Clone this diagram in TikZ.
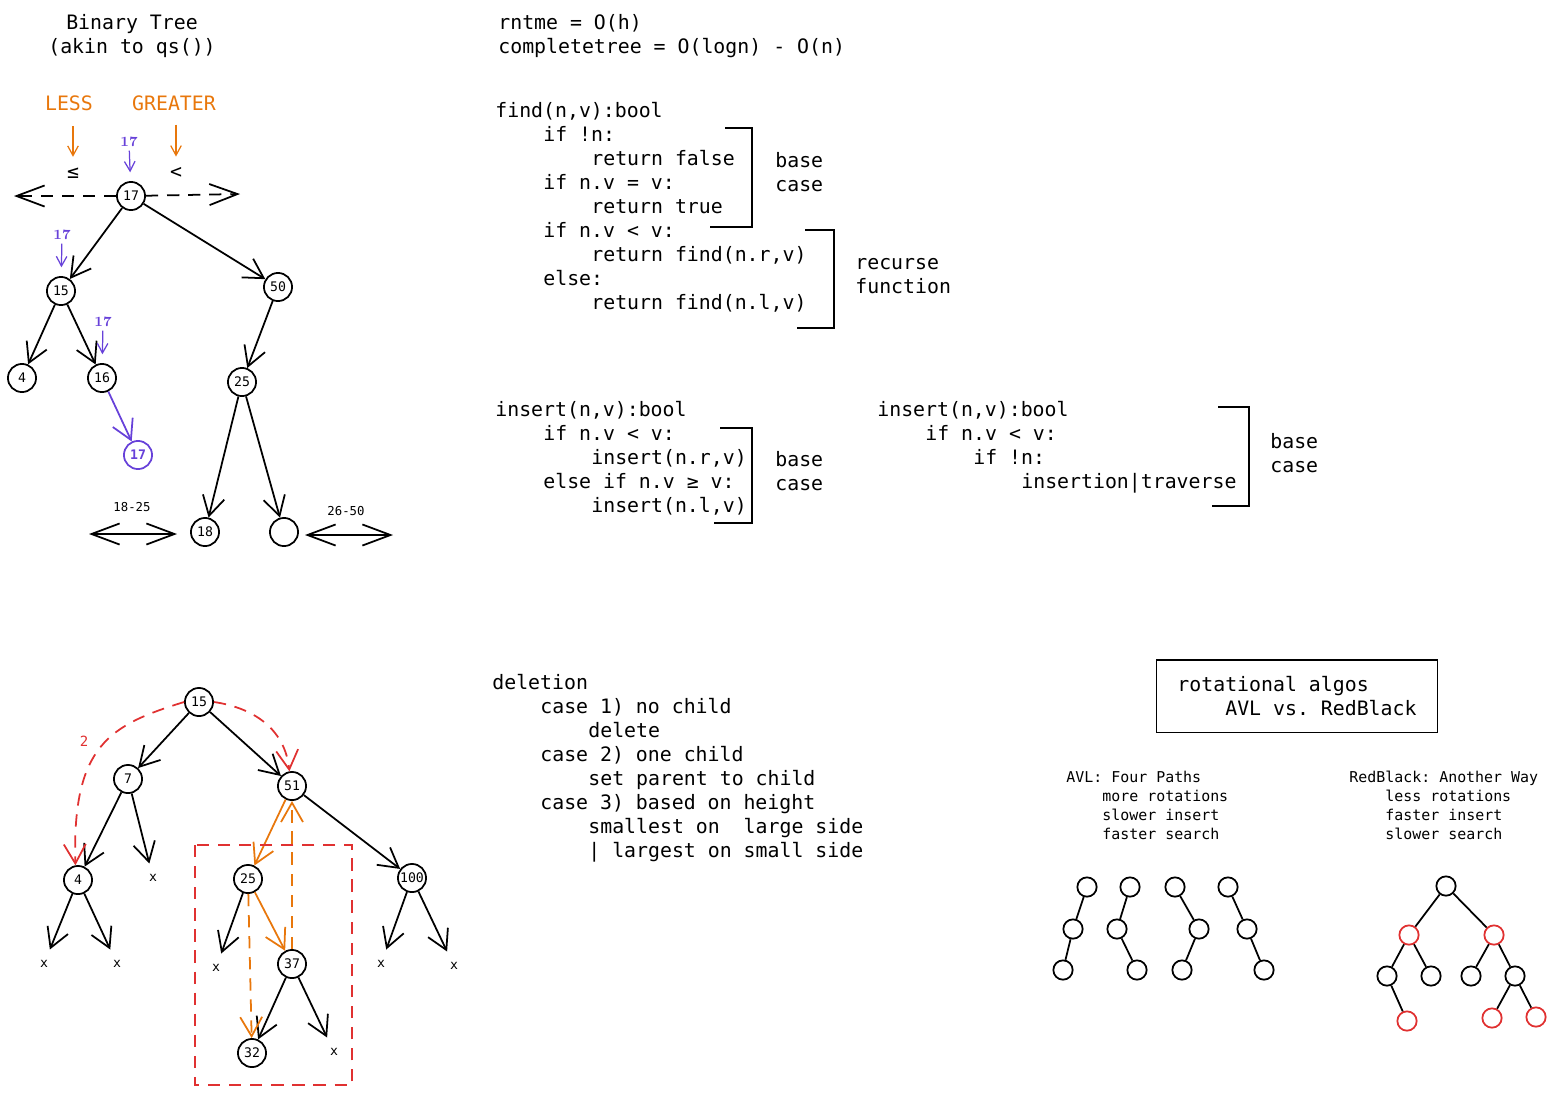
\documentclass[tikz,border=0pt]{standalone}
\usepackage{fontspec}
\setmonofont{DejaVu Sans Mono}
\usetikzlibrary{arrows.meta}
\definecolor{sketchorange}{HTML}{E8770C}
\definecolor{sketchviolet}{HTML}{6741D9}
\definecolor{sketchred}{HTML}{E03131}
\tikzset{codeline/.style={font=\ttfamily\fontsize{11.3}{13.6}\selectfont,inner sep=0,anchor=base west},
         noteline/.style={font=\ttfamily\fontsize{8.5}{10.8}\selectfont,inner sep=0,anchor=base west},
         tinytext/.style={font=\ttfamily\fontsize{7}{8}\selectfont,inner sep=0},
         treenode/.style={circle,draw,minimum size=16pt,inner sep=0,font=\ttfamily\fontsize{7.5}{8}\selectfont},
         minidot/.style={circle,draw,minimum size=11pt,inner sep=0},
         xleaf/.style={inner sep=6pt,font=\ttfamily\fontsize{7.5}{8}\selectfont},
         bigbarb/.style={->,>={Straight Barb[length=11pt,width=12.5pt]}},
         smallbarb/.style={->,>={Straight Barb[length=5.5pt,width=6pt]},line width=0.7pt},
         widebarb/.style={->,>={Straight Barb[length=16pt,width=12pt]}},
         twoway/.style={<->,>={Straight Barb[length=16pt,width=12pt]}},
         sketchdash/.style={dash pattern=on 7pt off 5pt}
}
\begin{document}
\begin{tikzpicture}[x=0.02cm,y=-0.02cm,draw/.append style={line width=1pt}]
  \useasboundingbox (0,0) rectangle (1554,1096);
  % binary tree
  \node[codeline,anchor=base] (title1) at (132,29) {Binary Tree};
  \node[codeline,anchor=base] (title2) at (132,53) {(akin to qs())};
  \node[codeline,anchor=base,sketchorange] (less) at (69,110) {LESS};
  \node[codeline,anchor=base,sketchorange] (greater) at (174,110) {GREATER};
  \node[codeline,anchor=center] (le) at (73,173) {≤};
  \node[codeline,anchor=center] (lt) at (176,173) {<};
  \draw[sketchorange,smallbarb,shorten <=9pt,shorten >=6pt] (less.south -| le.north) -- (le.north);
  \draw[sketchorange,smallbarb,shorten <=8pt,shorten >=6pt] (greater.south -| lt.north) -- (lt.north);
  \node[treenode] (t17) at (131,196) {17};
  \node[treenode] (t15) at (61,291) {15};
  \node[treenode] (t50) at (278,287) {50};
  \node[treenode] (t4) at (22,378) {4};
  \node[treenode] (t16) at (102,378) {16};
  \node[treenode] (t25) at (242,382) {25};
  \node[treenode,sketchviolet] (tnew) at (138,455) {\bfseries 17};
  \node[treenode] (t18) at (205,532) {18};
  \node[treenode] (tempty) at (284,532) {};
  \foreach \a/\b in {t17/t15,t17/t50,t15/t4,t15/t16,t50/t25,t25/t18,t25/tempty}
    \draw[bigbarb] (\a) -- (\b);
  \draw[sketchviolet,bigbarb] (t16) -- (tnew);
  \foreach \p/\x/\y/\t in {p1/129/142/t17,p2/62/235/t15,p3/103/322/t16} {
    \node[tinytext,sketchviolet,font=\bfseries\fontsize{8}{9}\selectfont] (\p) at (\x,\y) {17};
    \draw[sketchviolet,smallbarb,shorten <=2pt,shorten >=5pt] (\p) -- (\t);
  }
  \coordinate (lowend) at (14,196);
  \coordinate (highend) at (240,194);
  \draw[sketchdash,widebarb] (t17) -- (lowend);
  \draw[sketchdash,widebarb] (t17) -- (highend);
  \node[tinytext] (r1825) at (132,507) {18-25};
  \node[tinytext] (r2650) at (346,511) {26-50};
  \coordinate (r1a) at (89,534);
  \coordinate (r1b) at (177,534);
  \coordinate (r2a) at (305,535);
  \coordinate (r2b) at (393,535);
  \draw[twoway] (r1a) -- (r1b);
  \draw[twoway] (r2a) -- (r2b);
  % runtime and find
  \node[codeline] (rntme) at (498,29) {rntme = O(h)};
  \node[codeline] (complete) at (498,53) {completetree = O(logn) - O(n)};
  \foreach \d/\t [count=\n] in {0/{find(n,v):bool},1/{if !n:},2/{return false},1/{if n.v = v:},2/{return true},
                                1/{if n.v < v:},2/{return find(n.r,v)},1/{else:},2/{return find(n.l,v)}}
    \node[codeline] (find\n) at (495+48*\d,93+24*\n) {\t};
  \draw (725,128) -- (752,128) -- (752,227) -- (710,227);
  \draw (805,230) -- (834,230) -- (834,328) -- (797,328);
  \node[codeline] (fbase) at (775,167) {base};
  \node[codeline] (fcase) at (775,191) {case};
  \node[codeline] (frec) at (855,269) {recurse};
  \node[codeline] (ffun) at (855,293) {function};
  % insert
  \foreach \d/\t [count=\n] in {0/{insert(n,v):bool},1/{if n.v < v:},2/{insert(n.r,v)},1/{else if n.v ≥ v:},2/{insert(n.l,v)}}
    \node[codeline] (insa\n) at (495+48*\d,392+24*\n) {\t};
  \foreach \d/\t [count=\n] in {0/{insert(n,v):bool},1/{if n.v < v:},2/{if !n:},3/{insertion|traverse}}
    \node[codeline] (insb\n) at (877+48*\d,392+24*\n) {\t};
  \draw (720,428) -- (752,428) -- (752,523) -- (714,523);
  \draw (1218,407) -- (1249,407) -- (1249,506) -- (1212,506);
  \node[codeline] (iabase) at (775,466) {base};
  \node[codeline] (iacase) at (775,490) {case};
  \node[codeline] (ibbase) at (1270,448) {base};
  \node[codeline] (ibcase) at (1270,472) {case};
  % deletion
  \foreach \d/\t [count=\n] in {0/{deletion},1/{case 1) no child},2/{delete},1/{case 2) one child},2/{set parent to child},
                                1/{case 3) based on height},2/{smallest on~~large side},2/{| largest on small side}}
    \node[codeline] (del\n) at (492+48*\d,665+24*\n) {\t};
  \node[treenode] (b15) at (199,702) {15};
  \node[treenode] (b7) at (128,779) {7};
  \node[treenode] (b51) at (292,786) {51};
  \node[treenode] (b4) at (78,880) {4};
  \node[treenode] (b25) at (248,879) {25};
  \node[treenode] (b100) at (412,878) {100};
  \node[treenode] (b37) at (292,964) {37};
  \node[treenode] (b32) at (252,1053) {32};
  \foreach \n/\x/\y in {x7/153/878,x4a/44/964,x4b/117/964,x25/216/968,x100a/381/964,x100b/454/966,x37/334/1052}
    \node[xleaf] (\n) at (\x,\y) {x};
  \foreach \a/\b in {b15/b7,b15/b51,b7/b4,b7/x7,b4/x4a,b4/x4b,b51/b100,b25/x25,b37/b32,b37/x37,b100/x100a,b100/x100b}
    \draw[bigbarb] (\a) -- (\b);
  \draw[sketchorange,bigbarb] (b51) -- (b25);
  \draw[sketchorange,bigbarb] (b25) -- (b37);
  \draw[sketchorange,sketchdash,bigbarb] (b37) -- (b51);
  \draw[sketchorange,sketchdash,bigbarb] (b25) -- (b32);
  \draw[sketchred,sketchdash,bigbarb] (b15.west) .. controls (110,725) and (72,745) .. (b4.100);
  \draw[sketchred,sketchdash,bigbarb] (b15.east) .. controls (255,708) and (285,730) .. (b51.100);
  \node[tinytext,sketchred,font=\ttfamily\fontsize{8}{9}\selectfont] (two) at (84,741) {2};
  \draw[sketchred,sketchdash] (195,845) rectangle (352,1085);
  % rotational algos
  \node[draw,codeline,anchor=center,align=left,minimum width=160pt,minimum height=41.4pt] (rot) at (1297,696)
    {rotational algos\\\hphantom{0000}AVL vs. RedBlack};
  \foreach \d/\t [count=\n] in {0/{AVL: Four Paths},1/{more rotations},1/{slower insert},1/{faster search}}
    \node[noteline] (avl\n) at (1066+36*\d,763+19*\n) {\t};
  \foreach \d/\t [count=\n] in {0/{RedBlack: Another Way},1/{less rotations},1/{faster insert},1/{slower search}}
    \node[noteline] (rb\n) at (1349+36*\d,763+19*\n) {\t};
  \foreach \t/\xa/\xb/\xc in {p/1087/1073/1063,q/1130/1117/1137,r/1175/1199/1182,s/1228/1247/1264} {
    \node[minidot] (\t1) at (\xa,887) {};
    \node[minidot] (\t2) at (\xb,929) {};
    \node[minidot] (\t3) at (\xc,970) {};
    \draw (\t1) -- (\t2) -- (\t3);
  }
  \node[minidot] (k0) at (1446,886) {};
  \node[minidot,sketchred] (k1) at (1409,935) {};
  \node[minidot,sketchred] (k2) at (1494,935) {};
  \node[minidot] (k3) at (1387,976) {};
  \node[minidot] (k4) at (1431,976) {};
  \node[minidot] (k5) at (1471,976) {};
  \node[minidot] (k6) at (1515,976) {};
  \node[minidot,sketchred] (k7) at (1407,1021) {};
  \node[minidot,sketchred] (k8) at (1492,1018) {};
  \node[minidot,sketchred] (k9) at (1536,1017) {};
  \foreach \a/\b in {k0/k1,k0/k2,k1/k3,k1/k4,k2/k5,k2/k6,k3/k7,k6/k8,k6/k9}
    \draw (\a) -- (\b);
\end{tikzpicture}
\end{document}
